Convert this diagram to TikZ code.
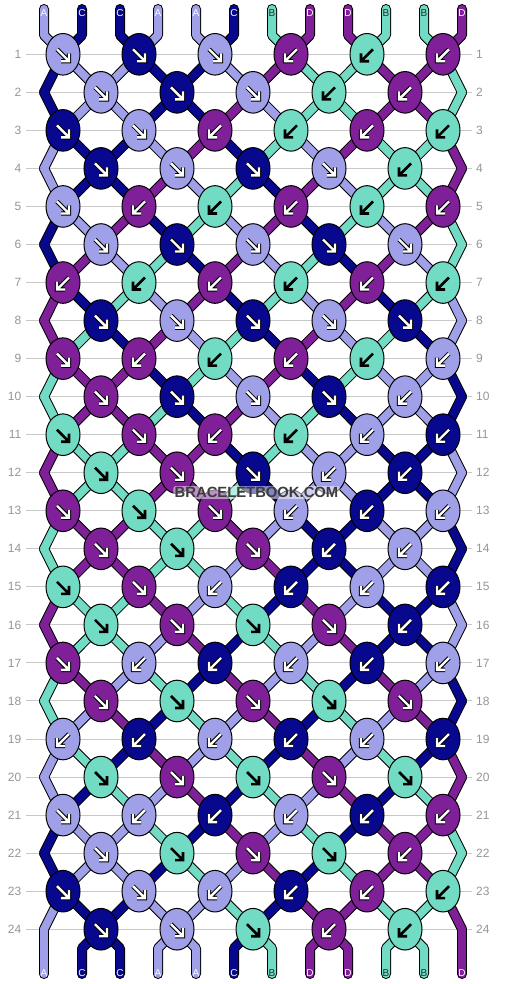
\documentclass[tikz,border=0pt]{standalone}
\usepackage{fontspec}
\setmainfont{Liberation Sans}
\usetikzlibrary{shapes.geometric}
\definecolor{colA}{RGB}{160,160,232}
\definecolor{colB}{RGB}{114,219,195}
\definecolor{colC}{RGB}{8,8,142}
\definecolor{colD}{RGB}{128,32,152}
\definecolor{labA}{RGB}{255,255,255}
\definecolor{labB}{RGB}{30,50,45}
\definecolor{labC}{RGB}{255,255,255}
\definecolor{labD}{RGB}{255,255,255}
\definecolor{gridgrey}{RGB}{200,200,200}
\definecolor{numgrey}{RGB}{150,150,150}
\definecolor{wmgrey}{RGB}{60,60,60}
\tikzset{
 strout/.style={line width=10pt, draw=black, line cap=round, line join=round},
 strin/.style={line width=8pt, line cap=round, line join=round},
 knot/.style={ellipse, draw=black, line width=1pt, minimum width=34pt, minimum height=41.6pt, inner sep=0pt},
 gridline/.style={draw=gridgrey, line width=1pt},
 rownum/.style={inner sep=0pt, text=numgrey, font=\fontsize{12}{14}\selectfont},
 lab/.style={inner sep=0pt, font=\fontsize{10}{12}\selectfont},
 arrout/.style={line width=4.4pt, draw=black, line join=miter, line cap=butt},
 arrin/.style={line width=2.4pt, draw=white, line join=miter, line cap=butt},
 arrdark/.style={line width=2.6pt, draw=black, line join=miter, line cap=butt},
 wm/.style={inner sep=1.2pt, rounded corners=2pt, fill=white, fill opacity=0.5, text opacity=1, font=\bfseries\fontsize{14.8}{16}\selectfont},
}
\def\strmode{0}
\newcommand\strandseg[2]{%
  \ifnum\strmode=0 \draw[strout] #2;\else \draw[strin, draw=col#1] #2;\fi}
\newcommand\knotarrow[1]{%
  \draw[#1] (-6,-5) -- (5.6,6.6) (6,-1) -- (6,7) -- (-2,7);}
\def\rowdata{%
1/{A,C,C,A,A,C,B,D,D,B,B,D}/{R,R,R,L,L,L},
2/{C,A,A,C,C,A,D,B,B,D,D,B}/{R,R,R,L,L},
3/{C,A,A,C,C,D,A,B,B,D,D,B}/{R,R,L,L,L,L},
4/{A,C,C,A,D,C,B,A,D,B,B,D}/{R,R,R,R,L},
5/{A,C,C,D,A,B,C,D,A,B,B,D}/{R,L,L,L,L,L},
6/{C,A,D,C,B,A,D,C,B,A,D,B}/{R,R,R,R,R},
7/{C,D,A,B,C,D,A,B,C,D,A,B}/{L,L,L,L,L,L},
8/{D,C,B,A,D,C,B,A,D,C,B,A}/{R,R,R,R,R},
9/{D,B,C,D,A,B,C,D,A,B,C,A}/{R,L,L,L,L,L},
10/{B,D,D,C,B,A,D,C,B,A,A,C}/{R,R,R,R,L},
11/{B,D,D,B,C,D,A,B,C,A,A,C}/{R,R,L,L,L,L},
12/{D,B,B,D,D,C,B,A,A,C,C,A}/{R,R,R,L,L},
13/{D,B,B,D,D,B,C,A,A,C,C,A}/{R,R,R,L,L,L},
14/{B,D,D,B,B,D,A,C,C,A,A,C}/{R,R,R,L,L},
15/{B,D,D,B,B,A,D,C,C,A,A,C}/{R,R,L,L,L,L},
16/{D,B,B,D,A,B,C,D,A,C,C,A}/{R,R,R,R,L},
17/{D,B,B,A,D,C,B,A,D,C,C,A}/{R,L,L,L,L,L},
18/{B,D,A,B,C,D,A,B,C,D,A,C}/{R,R,R,R,R},
19/{B,A,D,C,B,A,D,C,B,A,D,C}/{L,L,L,L,L,L},
20/{A,B,C,D,A,B,C,D,A,B,C,D}/{R,R,R,R,R},
21/{A,C,B,A,D,C,B,A,D,C,B,D}/{R,L,L,L,L,L},
22/{C,A,A,B,C,D,A,B,C,D,D,B}/{R,R,R,R,L},
23/{C,A,A,C,B,A,D,C,B,D,D,B}/{R,R,L,L,L,L},
24/{A,C,C,A,A,B,C,D,D,B,B,D}/{R,R,R,L,L}}
\newcommand\strandpass{%
\foreach \rr/\cols/\dirs in \rowdata {
  \pgfmathsetmacro\yy{54.3+38.04*(\rr-1)}
  \pgfmathsetmacro\yn{54.3+38.04*\rr}
  \foreach \cl [count=\pp] in \cols {
    \pgfmathtruncatemacro\ed{and(mod(\rr,2)==0, or(\pp==1,\pp==12))}
    \pgfmathtruncatemacro\sh{(1-2*mod(\pp+\rr,2))*(1-\ed)}
    \pgfmathsetmacro\xp{44+38*(\pp-1)}
    \pgfmathsetmacro\xx{\xp+19*\sh}
    \pgfmathtruncatemacro\pn{\pp+\sh}
    \pgfmathsetmacro\xpn{44+38*(\pn-1)}
    \pgfmathtruncatemacro\edn{and(mod(\rr+1,2)==0, or(\pn==1,\pn==12))}
    \pgfmathsetmacro\xn{\xpn+19*(1-2*mod(\pn+\rr+1,2))*(1-\edn)}
    \ifnum\rr=1 \strandseg{\cl}{(\xp,9) -- (\xp,35.3) -- (\xx,\yy)}\fi
    \ifnum\rr<24 \strandseg{\cl}{(\xx,\yy) -- (\xn,\yn)}\else
      \strandseg{\cl}{(\xx,\yy) -- (\xpn,948.3) -- (\xpn,974)}\fi
  }
}}
\begin{document}
\begin{tikzpicture}[x=1pt,y=-1pt]
\fill[white] (0,0) rectangle (506,984);
\useasboundingbox (0,0) rectangle (506,984);
% row numbers and grid lines
\foreach \rr in {1,...,24} {
  \pgfmathsetmacro\yy{54.3+38.04*(\rr-1)}
  \node[rownum, anchor=east] (ln\rr) at (21.5,\yy) {\rr};
  \node[rownum, anchor=west] (rn\rr) at (476,\yy) {\rr};
  \draw[gridline] (26,\yy) -- (472,\yy);
}
% strands: outline pass, then colour pass
\def\strmode{0}\strandpass
\def\strmode{1}\strandpass
% thread labels
\foreach \cl [count=\pp] in {A,C,C,A,A,C,B,D,D,B,B,D} {
  \pgfmathsetmacro\xp{44+38*(\pp-1)}
  \node[lab, text=lab\cl] (top\pp) at (\xp,12.7) {\cl};
  \node[lab, text=lab\cl] (bot\pp) at (\xp,973) {\cl};
}
% knots
\foreach \rr/\cols/\dirs in \rowdata {
  \pgfmathsetmacro\yy{54.3+38.04*(\rr-1)}
  \foreach \cl [count=\pp] in \cols {
    \expandafter\xdef\csname sl\pp\endcsname{\cl}
  }
  \foreach \dr [count=\kk] in \dirs {
    \pgfmathsetmacro\kx{63+38*(1-mod(\rr,2))+76*(\kk-1)}
    \pgfmathtruncatemacro\lp{2*\kk-mod(\rr,2)}
    \if R\dr \edef\kp{\lp}\def\xs{1}\else \pgfmathtruncatemacro\kp{\lp+1}\def\xs{-1}\fi
    \edef\kc{\csname sl\kp\endcsname}
    \node[knot, fill=col\kc] (k\rr-\kk) at (\kx,\yy) {};
    \begin{scope}[shift={(\kx,\yy)}, xscale=\xs]
      \if B\kc \knotarrow{arrdark}\else \knotarrow{arrout}\knotarrow{arrin}\fi
    \end{scope}
  }
}
% watermark
\node[wm, text=wmgrey] (wm) at (256.5,492.5) {BRACELETBOOK.COM};
\end{tikzpicture}
\end{document}
